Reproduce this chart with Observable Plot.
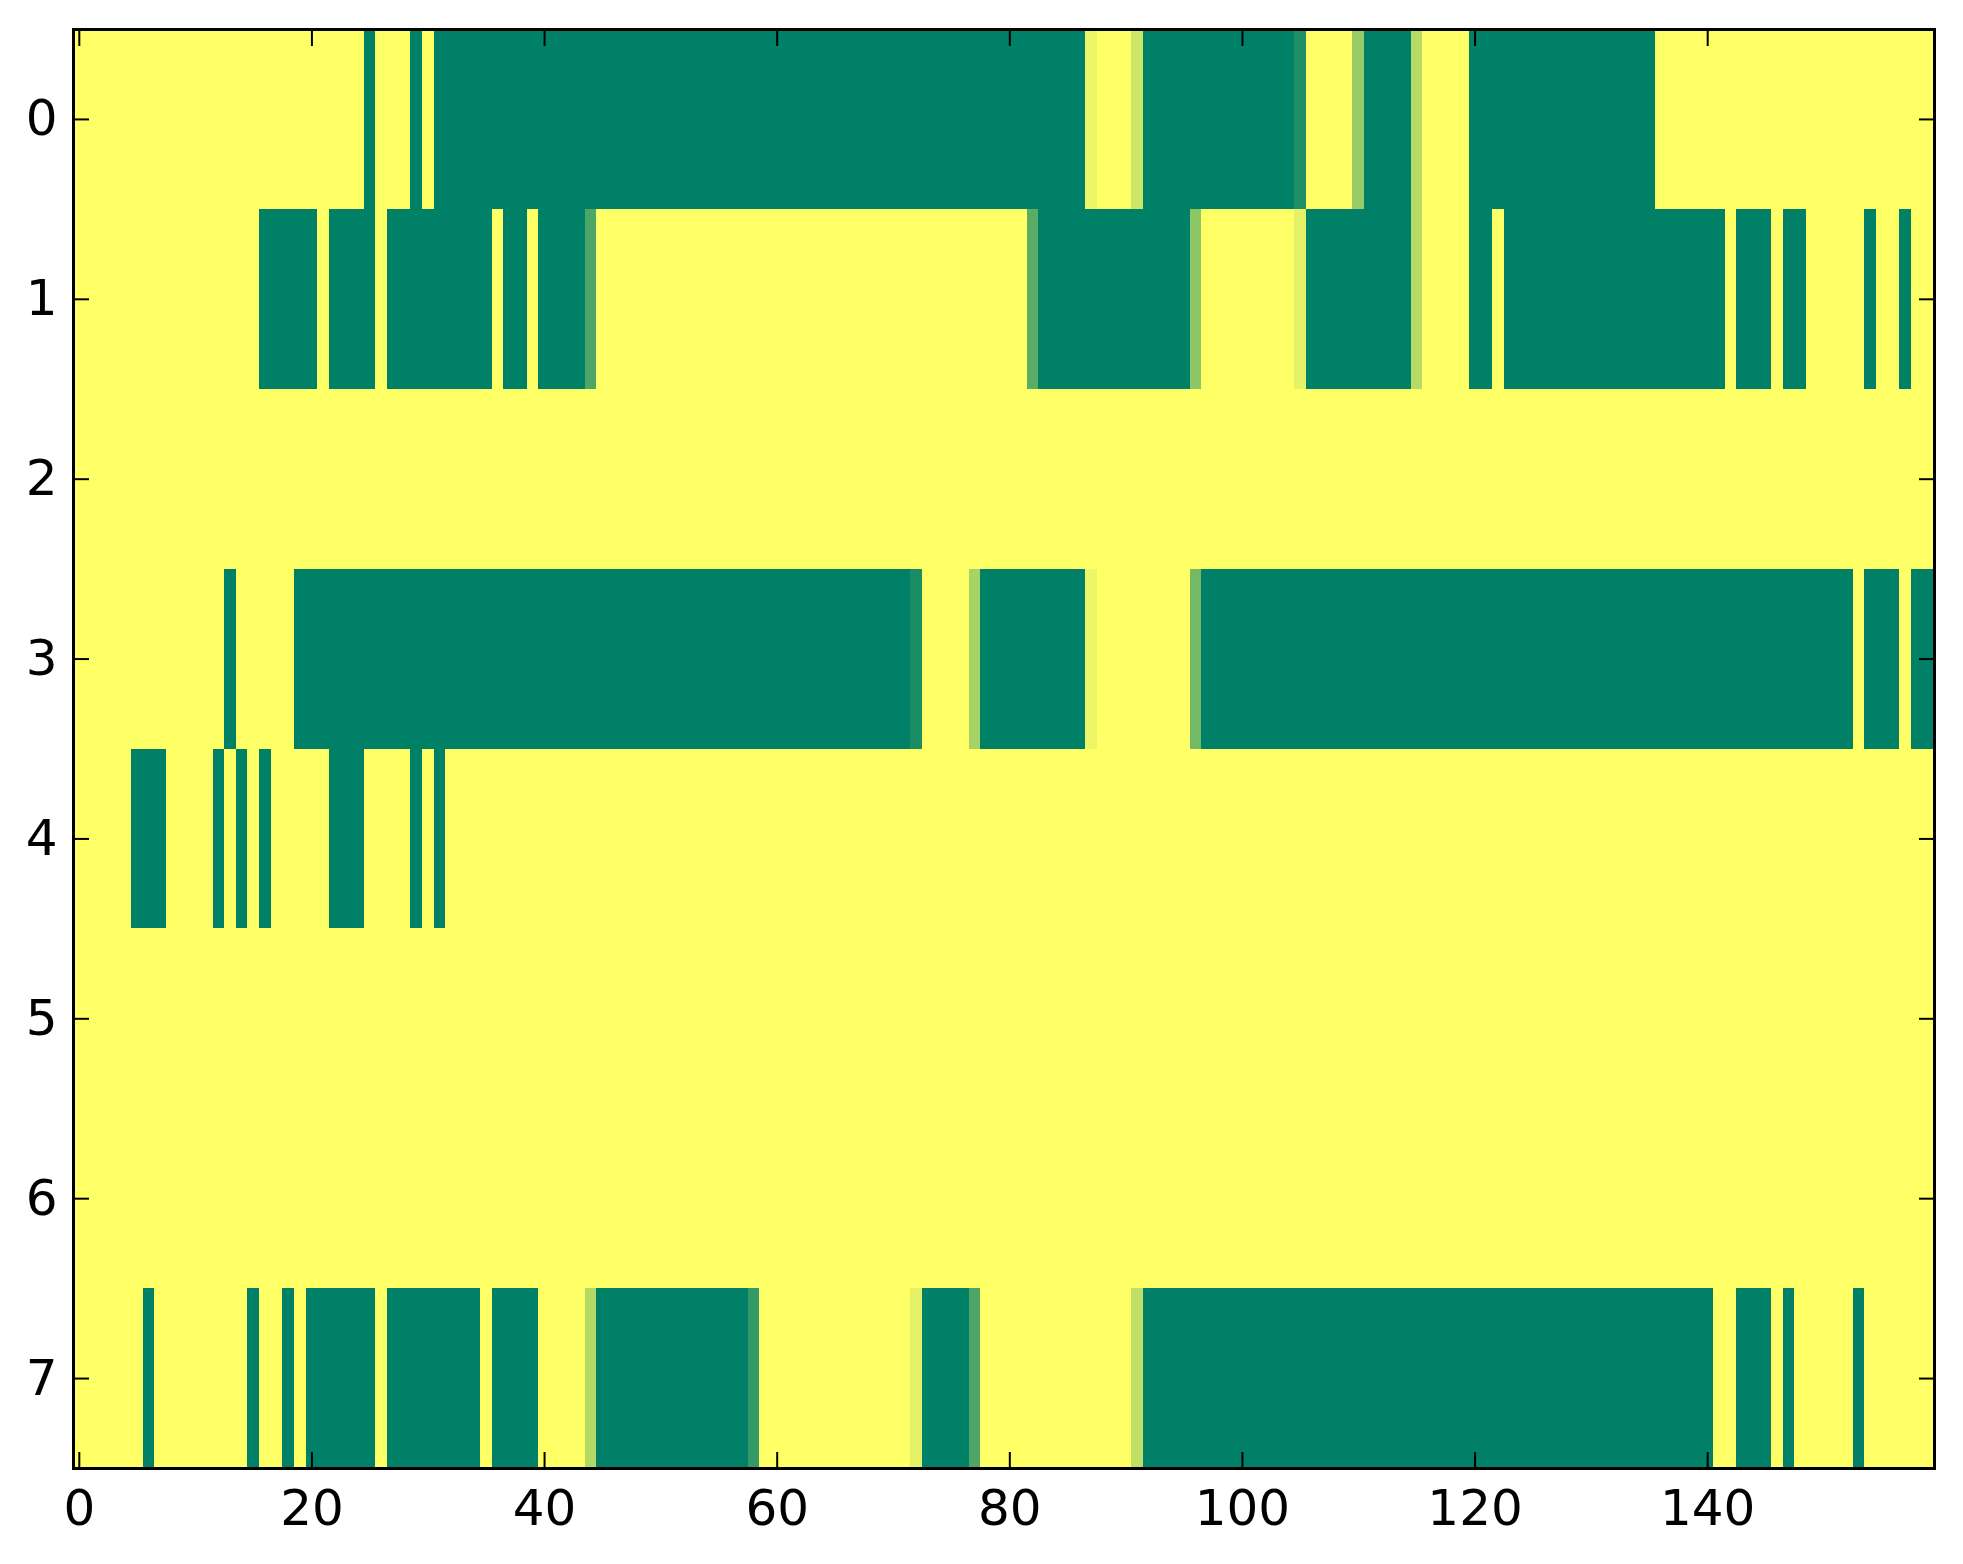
<!DOCTYPE html>
<html>
<head>
<meta charset="utf-8">
<script src="https://cdn.jsdelivr.net/npm/d3@7"></script>
<script src="https://cdn.jsdelivr.net/npm/@observablehq/plot@0.6"></script>
<style>
  html, body { margin: 0; padding: 0; background: #fff; }
  #chart { width: 1963px; height: 1564px; }
</style>
</head>
<body>
<div id="chart"></div>
<script>
// Run-length encoded rows: [value, count] (0 = green end, 1 = yellow end of "summer" colormap)
const row0 = [[1,25],[0,1],[1,3],[0,1],[1,1],[0,56],[0.93,1],[1,3],[0.8,1],[0,13],[0.12,1],[1,4],[0.6,1],[0,4],[0.72,1],[1,4],[0,16],[1,24]];
const row1 = [[1,16],[0,5],[1,1],[0,4],[1,1],[0,9],[1,1],[0,2],[1,1],[0,4],[0.3,1],[1,37],[0.35,1],[0,13],[0.55,1],[1,8],[0.9,1],[0,9],[0.72,1],[1,4],[0,2],[1,1],[0,19],[1,1],[0,3],[1,1],[0,2],[1,5],[0,1],[1,2],[0,1],[1,2]];
const row2 = [[1,160]];
const row3 = [[1,13],[0,1],[1,5],[0,53],[0.1,1],[1,4],[0.65,1],[0,9],[0.93,1],[1,8],[0.45,1],[0,56],[1,1],[0,3],[1,1],[0,2]];
const row4 = [[1,5],[0,3],[1,4],[0,1],[1,1],[0,1],[1,1],[0,1],[1,5],[0,3],[1,4],[0,1],[1,1],[0,1],[1,128]];
const row5 = [[1,160]];
const row6 = [[1,160]];
const row7 = [[1,6],[0,1],[1,8],[0,1],[1,2],[0,1],[1,1],[0,6],[1,1],[0,8],[1,1],[0,4],[1,4],[0.7,1],[0,13],[0.2,1],[1,13],[0.9,1],[0,4],[0.3,1],[1,13],[0.75,1],[0,49],[1,2],[0,3],[1,1],[0,1],[1,5],[0,1],[1,6]];

const rows = [row0, row1, row2, row3, row4, row5, row6, row7];
const xTicks = [0, 20, 40, 60, 80, 100, 120, 140];
const yTicks = [0, 1, 2, 3, 4, 5, 6, 7];
const nCols = 160;

// expand runs into cells
const cells = [];
rows.forEach((runs, r) => {
  let c = 0;
  for (const [v, n] of runs) {
    for (let k = 0; k < n; k++) { cells.push({row: r, col: c, v}); c++; }
  }
});

const plot = Plot.plot({
  width: 1963,
  height: 1564,
  marginLeft: 73,
  marginRight: 29,
  marginTop: 29,
  marginBottom: 96,
  style: {fontFamily: "DejaVu Sans", fontSize: "50px", background: "white", color: "black"},
  x: {domain: [-0.5, nCols - 0.5], axis: null},
  y: {domain: [rows.length - 0.5, -0.5], axis: null},
  color: {type: "linear", domain: [0, 1], range: ["rgb(0,128,102)", "rgb(255,255,102)"], interpolate: "rgb"},
  marks: [
    Plot.rect(cells, {
      x1: d => d.col - 0.5, x2: d => d.col + 0.5,
      y1: d => d.row - 0.5, y2: d => d.row + 0.5,
      fill: "v", shapeRendering: "crispEdges"
    }),
    // inward ticks on all four sides
    Plot.axisX(xTicks, {anchor: "bottom", tickSize: -16, tickFormat: () => "", strokeWidth: 2}),
    Plot.axisX(xTicks, {anchor: "top", tickSize: -16, tickFormat: () => "", strokeWidth: 2}),
    Plot.axisY(yTicks, {anchor: "left", tickSize: -16, tickFormat: () => "", strokeWidth: 2}),
    Plot.axisY(yTicks, {anchor: "right", tickSize: -16, tickFormat: () => "", strokeWidth: 2}),
    // labels
    Plot.axisX(xTicks, {anchor: "bottom", tickSize: 0, tickPadding: 21, tickFormat: d => String(d), fill: "black"}),
    Plot.axisY(yTicks, {anchor: "left", tickSize: 0, tickPadding: 16, tickFormat: d => String(d), fill: "black"}),
    Plot.frame({stroke: "black", strokeWidth: 3})
  ]
});
document.getElementById("chart").appendChild(plot);
</script>
</body>
</html>
